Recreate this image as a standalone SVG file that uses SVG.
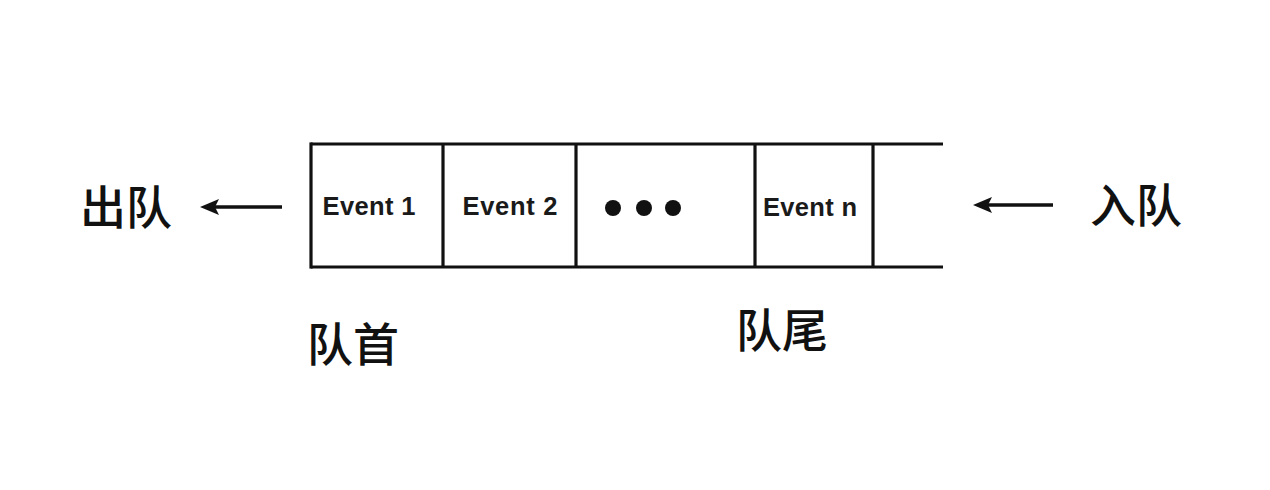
<svg xmlns="http://www.w3.org/2000/svg" width="1270" height="490" viewBox="0 0 1270 490">
<style>
.ln{stroke:#111;stroke-width:3.2;fill:none}
.ar{stroke:#111;stroke-width:3.5;fill:none}
.ev{font-family:"Liberation Sans",Arial,sans-serif;font-weight:bold;font-size:25.5px;fill:#1a1a1a}
.cjk{font-family:"Noto Sans CJK SC","Noto Sans",sans-serif;font-weight:500;font-size:46px;fill:#111}
</style>
<defs>
<marker id="ah" viewBox="0 0 19 16" refX="5" refY="8" markerWidth="19" markerHeight="16" orient="auto" markerUnits="userSpaceOnUse">
<path d="M0,0 L19,8 L0,16 L4,8 z" fill="#111"/>
</marker>
</defs>
<rect width="1270" height="490" fill="#fff"/>
<g id="queue">
<line class="ln" x1="311" y1="144" x2="943" y2="144"/>
<line class="ln" x1="311" y1="267" x2="943" y2="267"/>
<line class="ln" x1="311" y1="142.4" x2="311" y2="268.6"/>
</g>
<g id="cell1">
<line class="ln" x1="443" y1="144" x2="443" y2="267"/>
<text class="ev" x="369" y="215" text-anchor="middle" textLength="93">Event 1</text>
</g>
<g id="cell2">
<line class="ln" x1="576" y1="144" x2="576" y2="267"/>
<text class="ev" x="510" y="215" text-anchor="middle" textLength="95">Event 2</text>
</g>
<g id="cell-dots">
<circle cx="613" cy="208" r="8" fill="#111"/>
<circle cx="644" cy="208" r="8" fill="#111"/>
<circle cx="673" cy="208" r="8" fill="#111"/>
</g>
<g id="celln">
<line class="ln" x1="755" y1="144" x2="755" y2="267"/>
<line class="ln" x1="873" y1="144" x2="873" y2="267"/>
<text class="ev" x="810" y="216" text-anchor="middle" textLength="94">Event n</text>
</g>
<g id="connectors">
<line class="ar" x1="282" y1="207" x2="214" y2="207" marker-end="url(#ah)"/>
<line class="ar" x1="1053" y1="205" x2="987" y2="205" marker-end="url(#ah)"/>
</g>
<g id="dequeue"><text class="cjk" x="80" y="224">出队</text></g>
<g id="enqueue"><text class="cjk" x="1090" y="222">入队</text></g>
<g id="head"><text class="cjk" x="307" y="361">队首</text></g>
<g id="tail"><text class="cjk" x="736" y="347">队尾</text></g>
</svg>
